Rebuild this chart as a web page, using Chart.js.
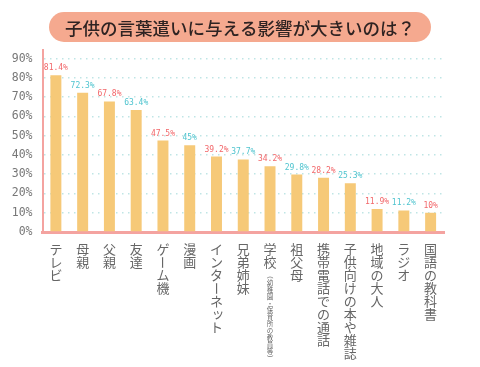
<!DOCTYPE html>
<html>
<head>
<meta charset="utf-8">
<script src="https://cdn.jsdelivr.net/npm/chart.js@4.4.0/dist/chart.umd.min.js"></script>
<style>
html,body{margin:0;padding:0;background:#fff;}
#wrap{position:relative;width:480px;height:367px;}
</style>
</head>
<body>
<div id="wrap"><canvas id="c" width="480" height="367"></canvas></div>
<script>
const title = '子供の言葉遣いに与える影響が大きいのは？';
const categories = ['テレビ','母親','父親','友達','ゲーム機','漫画','インターネット','兄弟姉妹','学校（幼稚園・保育所の教員等）','祖父母','携帯電話での通話','子供向けの本や雑誌','地域の大人','ラジオ','国語の教科書'];
const values = [81.4, 72.3, 67.8, 63.4, 47.5, 45, 39.2, 37.7, 34.2, 29.8, 28.2, 25.3, 11.9, 11.2, 10];
const yTicks = [0, 10, 20, 30, 40, 50, 60, 70, 80, 90];
const labelColors = ['#f2676a', '#4fc4cf'];

const ROTATE = 'ー（）()—';
const SMALL = 'ッャュョァィゥェォっゃゅょぁぃぅぇぉ';

function drawVertical(ctx, text, x, yStart, size, pitch) {
  ctx.font = size + "px 'Noto Sans CJK JP'";
  ctx.textAlign = 'center';
  ctx.textBaseline = 'middle';
  let y = yStart + pitch / 2;
  for (const ch of text) {
    ctx.save();
    if (ROTATE.includes(ch)) {
      ctx.translate(x, y);
      ctx.rotate(Math.PI / 2);
      ctx.fillText(ch, 0, 0);
    } else if (SMALL.includes(ch)) {
      ctx.fillText(ch, x + size * 0.12, y - size * 0.12);
    } else {
      ctx.fillText(ch, x, y);
    }
    ctx.restore();
    y += pitch;
  }
  return y - pitch / 2;
}

const decor = {
  id: 'decor',
  beforeDraw(chart) {
    const ctx = chart.ctx;
    ctx.save();
    ctx.fillStyle = '#ffffff';
    ctx.fillRect(0, 0, chart.width, chart.height);
    const x0 = 49, x1 = 431, y0 = 12, y1 = 42, r = 15;
    ctx.beginPath();
    ctx.moveTo(x0 + r, y0);
    ctx.lineTo(x1 - r, y0);
    ctx.arc(x1 - r, y0 + r, r, -Math.PI / 2, Math.PI / 2);
    ctx.lineTo(x0 + r, y1);
    ctx.arc(x0 + r, y0 + r, r, Math.PI / 2, Math.PI * 1.5);
    ctx.closePath();
    ctx.fillStyle = '#f5a98f';
    ctx.fill();
    ctx.fillStyle = '#2e2322';
    ctx.font = "500 17.5px 'Noto Sans CJK JP'";
    ctx.textAlign = 'center';
    ctx.textBaseline = 'middle';
    ctx.fillText(title, 240, 28);
    ctx.restore();
  },
  afterDraw(chart) {
    const ctx = chart.ctx;
    const xs = chart.scales.x;
    ctx.save();
    ctx.fillStyle = '#666666';
    categories.forEach((lab, i) => {
      const x = xs.getPixelForValue(i);
      const p = lab.indexOf('（');
      if (p >= 0) {
        const end = drawVertical(ctx, lab.slice(0, p), x, 243, 13, 13);
        drawVertical(ctx, lab.slice(p), x, end + 3, 6.5, 6.9);
      } else {
        drawVertical(ctx, lab, x, 243, 13, 13);
      }
    });
    const meta = chart.getDatasetMeta(0);
    ctx.font = "8px 'DejaVu Sans Mono'";
    ctx.textAlign = 'center';
    ctx.textBaseline = 'alphabetic';
    meta.data.forEach((el, i) => {
      ctx.fillStyle = labelColors[i % 2];
      ctx.fillText(values[i] + '%', el.x, el.y - 5);
    });
    ctx.restore();
  }
};

new Chart(document.getElementById('c'), {
  type: 'bar',
  data: {
    labels: categories,
    datasets: [{
      data: values,
      backgroundColor: '#f6c978',
      barPercentage: 0.41,
      categoryPercentage: 1
    }]
  },
  options: {
    responsive: false,
    animation: false,
    layout: { padding: { top: 50, right: 36, bottom: 0, left: 0 } },
    plugins: { legend: { display: false }, tooltip: { enabled: false } },
    scales: {
      x: {
        grid: { display: false },
        border: { color: '#f4a3a0', width: 3 },
        ticks: { display: false },
        afterFit(s) { s.height = 135; }
      },
      y: {
        min: 0,
        max: 94.5,
        afterFit(s) { s.width = 42.5; },
        afterBuildTicks(s) { s.ticks = yTicks.map(v => ({ value: v })); },
        grid: {
          color: c => (c.tick && c.tick.value === 0) ? 'rgba(0,0,0,0)' : '#bfe5e5',
          lineWidth: 1.5,
          drawTicks: false
        },
        border: { color: '#f4a3a0', width: 2, dash: [1.5, 4.5] },
        ticks: {
          padding: 10,
          color: '#777777',
          font: { family: "'DejaVu Sans Mono', monospace", size: 11.5 },
          callback: v => v + '%'
        }
      }
    }
  },
  plugins: [decor]
});
</script>
</body>
</html>
